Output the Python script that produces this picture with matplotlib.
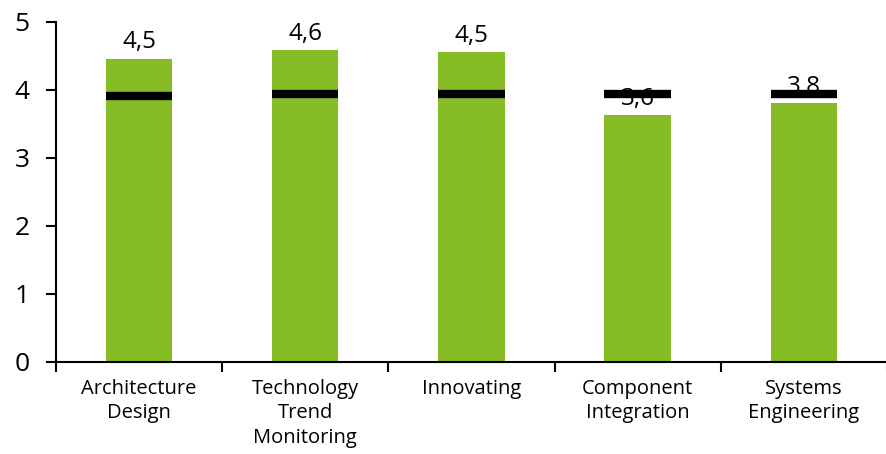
import numpy as np
import matplotlib.pyplot as plt

plt.rcParams['font.family'] = ['Open Sans', 'DejaVu Sans']

# Данные
categories = ['Architecture\nDesign', 'Technology\nTrend\nMonitoring', 'Innovating',
              'Component\nIntegration', 'Systems\nEngineering']
scores = [4.46, 4.59, 4.55, 3.63, 3.81]
labels = ['4,5', '4,6', '4,5', '3,6', '3,8']
targets = [3.91, 3.94, 3.94, 3.94, 3.94]

fig = plt.figure(figsize=(8.87, 4.54), dpi=100)
ax = fig.add_axes([0.063, 0.203, 0.937, 0.749])

x = np.arange(len(categories))
bw = 0.4
ax.bar(x, scores, width=bw, color='#86BC25', zorder=2)
for xi, v, lab in zip(x, scores, labels):
    ax.text(xi, v + 0.06, lab, ha='center', va='bottom', fontsize=17.5, zorder=3)
ax.hlines(targets, x - bw / 2, x + bw / 2, color='black', linewidth=6, zorder=4)

ax.set_xlim(-0.5, len(categories) - 0.5)
ax.set_ylim(0, 5)
ax.set_yticks(range(6))
ax.tick_params(axis='y', labelsize=19, length=7, width=1.5, pad=12)
ax.set_xticks(np.arange(len(categories) + 1) - 0.5)
ax.set_xticklabels([])
ax.tick_params(axis='x', length=7, width=1.5)
for xi, c in zip(x, categories):
    ax.text(xi, -0.25, c, ha='center', va='top', fontsize=14.5, linespacing=1.3)

for s in ['top', 'right']:
    ax.spines[s].set_visible(False)
ax.spines['left'].set_linewidth(1.5)
ax.spines['bottom'].set_linewidth(1.5)

fig.savefig('out.png', dpi=100)
